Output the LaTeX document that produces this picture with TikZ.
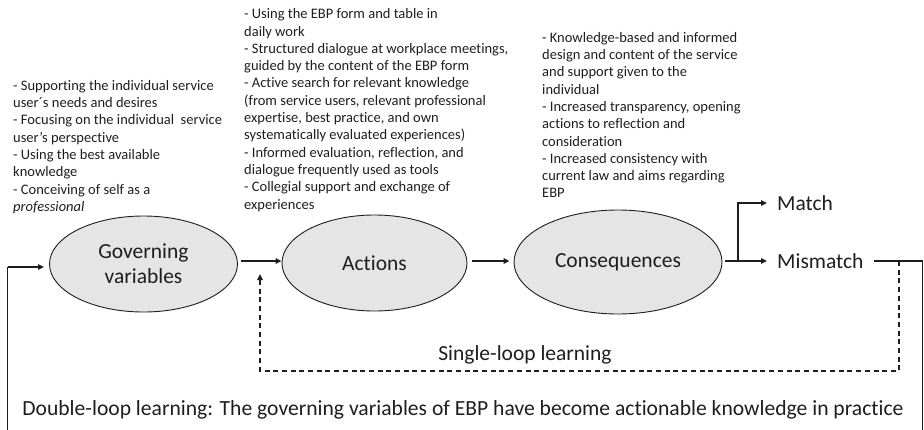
\documentclass[tikz,border=0pt]{standalone}
\usepackage{fontspec}
\setmainfont[Ligatures=NoCommon]{Carlito}
\usetikzlibrary{arrows.meta,shapes.geometric,calc}
\definecolor{ink}{RGB}{30,30,30}
\definecolor{bubble}{RGB}{229,229,229}
\begin{document}
\begin{tikzpicture}[x=1pt,y=-1pt,
  every node/.style={text=ink},
  stage/.style={ellipse,draw=ink,line width=0.9pt,fill=bubble,
    minimum width=188pt,minimum height=96pt,align=center,inner sep=0pt,
    font=\fontsize{21.5}{25}\selectfont},
  note/.style={anchor=north west,align=left,inner sep=0pt,
    font=\fontsize{14.5}{17.3}\selectfont},
  outcome/.style={anchor=west,inner xsep=10pt,inner ysep=2pt,
    font=\fontsize{21.5}{25}\selectfont},
  loopcap/.style={font=\fontsize{21.5}{25}\selectfont},
  flow/.style={draw=ink,line width=1.5pt,-{Triangle[length=6pt,width=5.5pt]}},
  wire/.style={draw=ink,line width=1.3pt},
  dashloop/.style={draw=ink,line width=1.3pt,dash pattern=on 5pt off 3.7pt,
    -{Triangle[length=6pt,width=5.5pt]}}]
\useasboundingbox (0,0) rectangle (924,429);

% the three stages
\node[stage] (gov) at (143.5,264) {Governing\\variables};
\node[stage,minimum width=185pt] (act) at (374.5,263) {Actions};
\node[stage,minimum width=208pt,minimum height=104pt] (con) at (618,262) {Consequences};

% bullet lists above each stage
\node[note] (govnote) at (13,80) {- Supporting the individual service\\
user\textasciiacute s needs and desires\\
- Focusing on the individual\ \ service\\
user’s perspective\\
- Using the best available\\
knowledge\\
- Conceiving of self as a\\
\textit{professional}};

\node[note] (actnote) at (244,8.5) {- Using the EBP form and table in\\
daily work\\
- Structured dialogue at workplace meetings,\\
guided by the content of the EBP form\\
- Active search for relevant knowledge\\
(from service users, relevant professional\\
expertise, best practice, and own\\
systematically evaluated experiences)\\
- Informed evaluation, reflection, and\\
dialogue frequently used as tools\\
- Collegial support and exchange of\\
experiences};

\node[note] (connote) at (542,32) {- Knowledge-based and informed\\
design and content of the service\\
and support given to the\\
individual\\
- Increased transparency, opening\\
actions to reflection and\\
consideration\\
- Increased consistency with\\
current law and aims regarding\\
EBP};

% outcomes
\node[outcome] (match) at (767,203) {Match};
\node[outcome] (mismatch) at (767,261) {Mismatch};

% loop captions
\node[loopcap] (single) at (525,355) {Single-loop learning};
\node[font=\fontsize{21.6}{26}\selectfont] (double) at (463,410)
  {Double-loop learning: The governing variables of EBP have become actionable knowledge in practice};

% main flow
\path[flow] (gov.east |- 0,261) ++(3,0) coordinate (g1) -- (act.west |- 0,261);
\path[flow] (act.east |- 0,261) ++(5,0) coordinate (a1) -- ($(con.west |- 0,261)+(-4,0)$);
\coordinate (fork) at (738,261);
\path[wire] ($(con.east |- 0,261)+(3,0)$) -- (fork);
\path[flow] (fork) -- (mismatch.west);
\path[flow] (fork) |- (match.west);

% single-loop feedback
\coordinate (s0) at (899,261);
\coordinate (s1) at (899,371);
\coordinate (s2) at (260,371);
\coordinate (s3) at (260,274);
\path[dashloop] (s0) -- (s1) -- (s2) -- (s3);

% double-loop feedback, running round below the lower edge
\coordinate (d0) at (922.5,261);
\coordinate (d1) at (922.5,432);
\coordinate (d2) at (7.5,432);
\coordinate (d3) at (7.5,267);
\coordinate (d4) at (44,267);
\path[wire] (mismatch.east) -- (d0) -- (d1) -- (d2) -- (d3);
\path[flow] (d3) -- (d4);
\end{tikzpicture}
\end{document}
